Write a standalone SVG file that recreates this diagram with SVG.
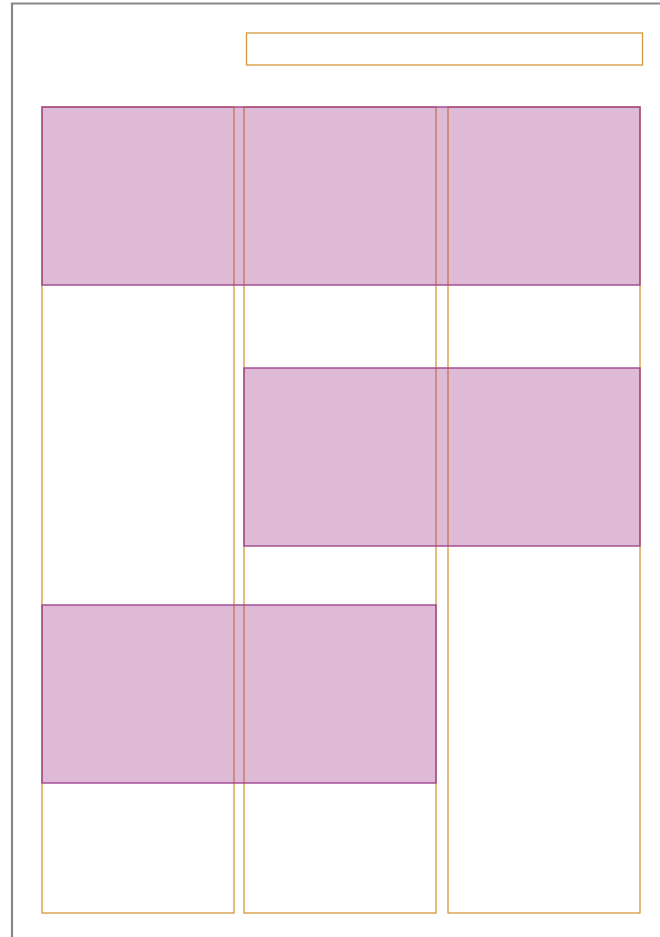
<svg xmlns="http://www.w3.org/2000/svg" width="660" height="937" viewBox="0 0 660 937">
<style>
.frame{fill:none;stroke:#858a8a;stroke-width:2.2}
.col{fill:none;stroke:#d18f2c;stroke-width:1.2}
.hdr{fill:none;stroke:#d49a3a;stroke-width:1.3}
.blk{fill:rgb(155,45,135);fill-opacity:0.33;stroke:#a0438d;stroke-width:1.5;stroke-opacity:0.92}
</style>
<rect width="660" height="937" fill="#ffffff"/>
<g id="frame"><path class="frame" d="M12 937 V3.5 H660"/></g>
<g id="header"><rect class="hdr" x="246.5" y="33" width="396" height="32"/></g>
<g id="columns">
<rect id="col1" class="col" x="42" y="107" width="192" height="806"/>
<rect id="col2" class="col" x="244" y="107" width="192" height="806"/>
<rect id="col3" class="col" x="448" y="107" width="192" height="806"/>
</g>
<g id="blocks">
<rect id="block1" class="blk" x="42" y="107" width="598" height="178"/>
<rect id="block2" class="blk" x="244" y="368" width="396" height="178"/>
<rect id="block3" class="blk" x="42" y="605" width="394" height="178"/>
</g>
</svg>
